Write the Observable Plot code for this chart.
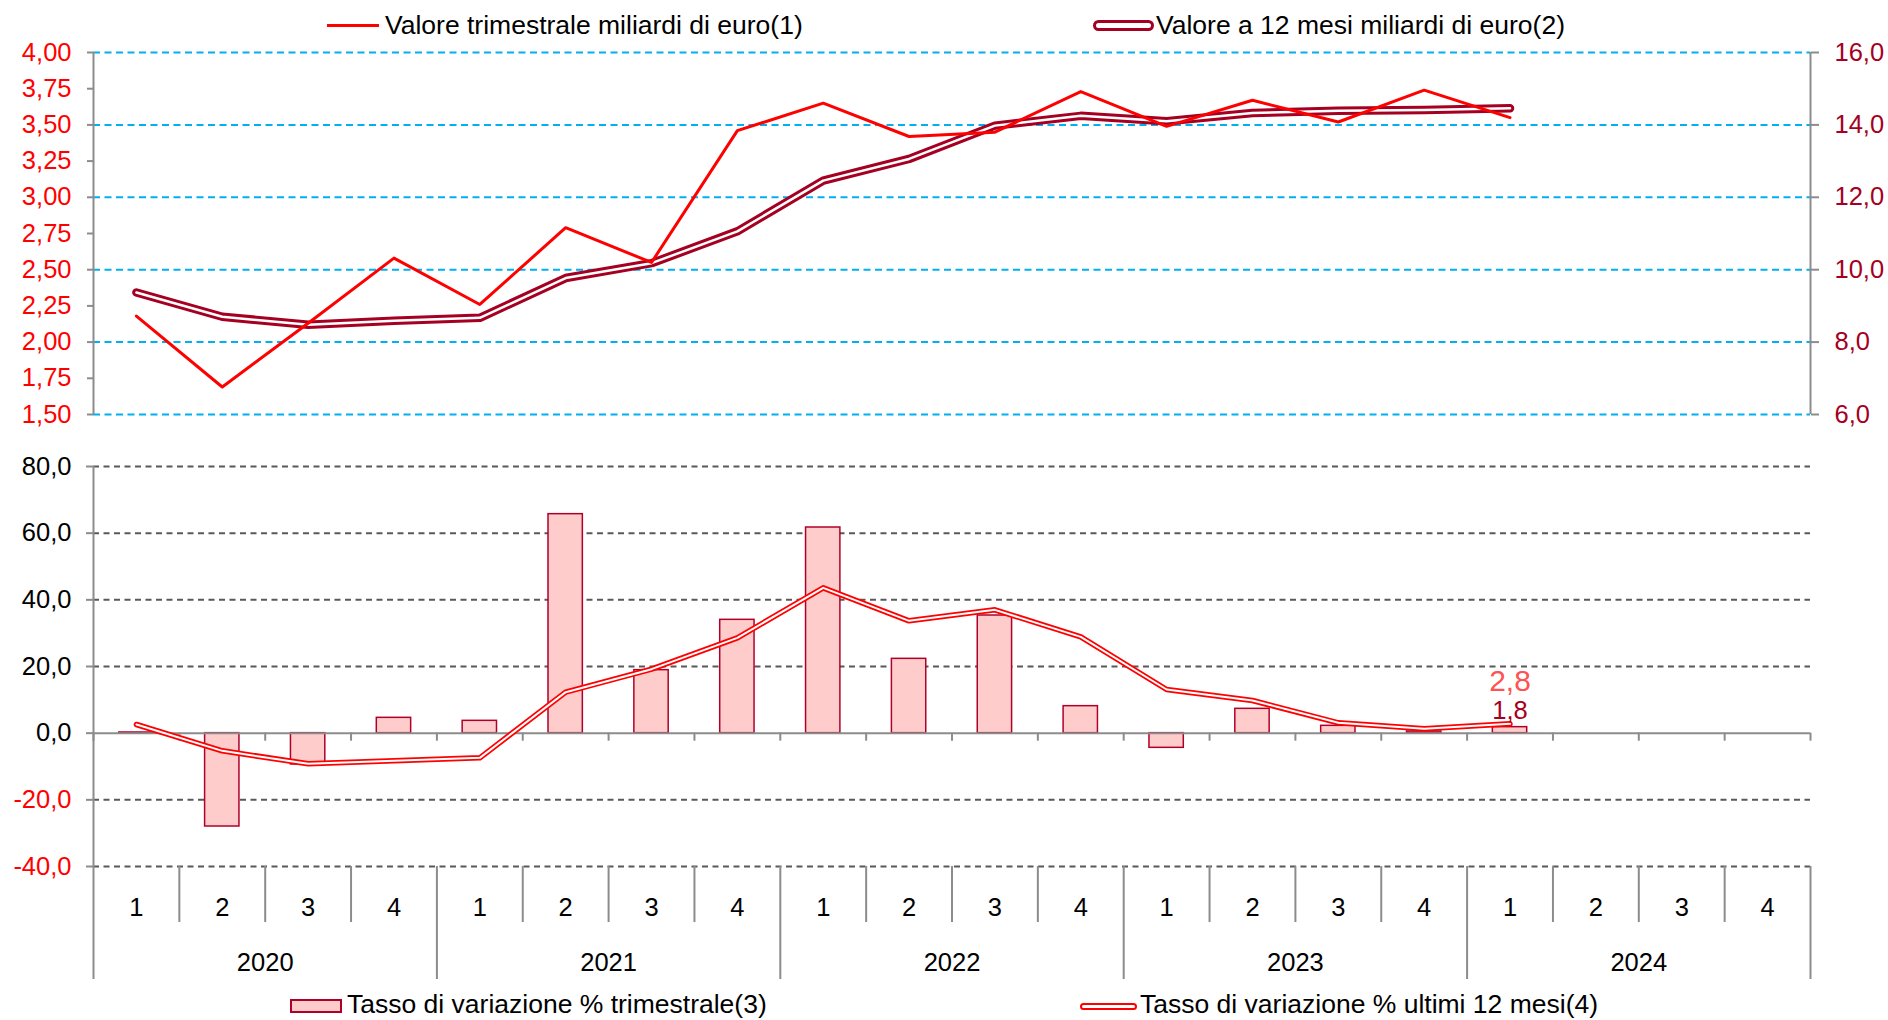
<!DOCTYPE html>
<html>
<head>
<meta charset="utf-8">
<script src="https://cdn.jsdelivr.net/npm/d3@7"></script>
<script src="https://cdn.jsdelivr.net/npm/@observablehq/plot@0.6"></script>
<style>
  html, body { margin: 0; padding: 0; background: #fff; }
  #root { position: relative; width: 1888px; height: 1020px; overflow: hidden;
          font-family: "Liberation Sans", Arial, sans-serif; background: #fff; }
  .legtxt { position: absolute; font-size: 26.5px; line-height: 26.5px; color: #000; white-space: nowrap; }
  .sym { position: absolute; box-sizing: border-box; }
</style>
</head>
<body>
<div id="root"></div>
<script>
// ---------------- DATA ----------------
const years = ["2020", "2021", "2022", "2023", "2024"];
const quarters = ["1", "2", "3", "4"];

// Valore trimestrale miliardi di euro (left axis)
const valoreTrimestrale = [2.18, 1.69, 2.13, 2.58, 2.26, 2.79, 2.55, 3.46, 3.65, 3.42, 3.45, 3.73, 3.49, 3.67, 3.52, 3.74, 3.55];
// Valore a 12 mesi miliardi di euro (right axis)
const valore12Mesi = [9.37, 8.70, 8.48, 8.59, 8.67, 9.77, 10.18, 11.06, 12.46, 13.06, 13.98, 14.25, 14.10, 14.33, 14.39, 14.41, 14.46];
// Tasso di variazione % trimestrale (bars)
const tassoTrimestrale = [0.2, -28.0, -9.4, 4.6, 3.7, 65.7, 18.9, 34.0, 61.7, 22.3, 35.3, 8.1, -4.4, 7.3, 2.2, 0.5, 1.8];
// Tasso di variazione % ultimi 12 mesi (line)
const tasso12Mesi = [2.6, -5.3, -9.2, -8.3, -7.4, 12.3, 19.2, 28.6, 43.6, 33.7, 37.0, 28.9, 13.1, 9.8, 3.1, 1.3, 2.8];

const ticksTopLeft = [1.5, 1.75, 2, 2.25, 2.5, 2.75, 3, 3.25, 3.5, 3.75, 4];
const ticksTopRight = [6, 8, 10, 12, 14, 16];
const ticksBottom = [-40, -20, 0, 20, 40, 60, 80];

const legendTop = ["Valore trimestrale miliardi di euro(1)", "Valore a 12 mesi miliardi di euro(2)"];
const legendBottom = ["Tasso di variazione % trimestrale(3)", "Tasso di variazione % ultimi 12 mesi(4)"];

// ---------------- HELPERS ----------------
const periods = years.flatMap((y, yi) => quarters.map((q, qi) => ({year: y, quarter: q, i: yi * 4 + qi})));
const rows = (arr) => arr.map((v, i) => ({i, v}));
const fmt = (d, n) => d.toFixed(n).replace(".", ",");
const leftDom = [1.5, 4], rightDom = [6, 16];
const k = (leftDom[1] - leftDom[0]) / (rightDom[1] - rightDom[0]);
const toLeft = (v) => leftDom[0] + (v - rightDom[0]) * k;
const fromLeft = (v) => rightDom[0] + (v - leftDom[0]) / k;

const N = periods.length;
const boundaries = d3.range(N + 1).map(b => b - 0.5);
const yearBoundaries = boundaries.filter((b, j) => j % 4 === 0);
const quarterBoundaries = boundaries.filter((b, j) => j % 4 !== 0);
const yearCenters = years.map((y, yi) => yi * 4 + 1.5);

const FONT = "Liberation Sans, Arial, sans-serif";
const GRAY = "#8C8C8C";
const RED = "#FF0000";
const CRIMSON = "#A50021";
const xScale = {domain: [-0.5, N - 0.5], axis: null};
const style = {fontFamily: FONT, fontSize: "25.5px", background: "transparent", overflow: "visible", color: "#000"};

// ---------------- TOP PANEL ----------------
const topPlot = Plot.plot({
  width: 1888, height: 400,
  marginTop: 12, marginBottom: 26, marginLeft: 93, marginRight: 78,
  x: xScale,
  y: {domain: leftDom, axis: null},
  style,
  marks: [
    Plot.ruleY(ticksTopRight.map(toLeft), {stroke: "#00B0F0", strokeWidth: 2, strokeDasharray: "7,4.5"}),
    Plot.ruleX([-0.5, N - 0.5], {stroke: GRAY, strokeWidth: 2}),
    Plot.axisY({anchor: "left", ticks: ticksTopLeft, tickSize: 6, tickPadding: 16, strokeWidth: 2,
      tickFormat: d => fmt(d, 2), stroke: GRAY, fill: RED, label: null}),
    Plot.axisY({anchor: "right", ticks: ticksTopRight.map(toLeft), tickSize: 8, tickPadding: 16, strokeWidth: 2,
      tickFormat: d => fmt(fromLeft(d), 1), stroke: GRAY, fill: CRIMSON, label: null}),
    Plot.line(rows(valore12Mesi), {x: "i", y: d => toLeft(d.v), stroke: CRIMSON, strokeWidth: 8.5,
      strokeLinecap: "round", strokeLinejoin: "round"}),
    Plot.line(rows(valore12Mesi), {x: "i", y: d => toLeft(d.v), stroke: "#fff", strokeWidth: 2.5,
      strokeLinecap: "round", strokeLinejoin: "round"}),
    Plot.line(rows(valoreTrimestrale), {x: "i", y: "v", stroke: RED, strokeWidth: 3})
  ]
});

// ---------------- BOTTOM PANEL ----------------
const bottomPlot = Plot.plot({
  width: 1888, height: 550,
  marginTop: 26, marginBottom: 124, marginLeft: 93, marginRight: 78,
  x: xScale,
  y: {domain: [-40, 80], axis: null},
  style,
  marks: [
    Plot.ruleY(ticksBottom.filter(d => d !== 0), {stroke: "#595959", strokeWidth: 2, strokeDasharray: "6,4.5"}),
    Plot.ruleX([-0.5], {stroke: GRAY, strokeWidth: 2}),
    Plot.axisY({anchor: "left", ticks: ticksBottom.filter(d => d >= 0), tickSize: 7, tickPadding: 15, strokeWidth: 2,
      tickFormat: d => fmt(d, 1), stroke: GRAY, fill: "#000", label: null}),
    Plot.axisY({anchor: "left", ticks: ticksBottom.filter(d => d < 0), tickSize: 7, tickPadding: 15, strokeWidth: 2,
      tickFormat: d => fmt(d, 1), stroke: GRAY, fill: RED, label: null}),
    Plot.axisX({anchor: "bottom", ticks: quarterBoundaries, tickSize: 56, strokeWidth: 2, stroke: GRAY,
      tickFormat: () => "", label: null}),
    Plot.axisX({anchor: "bottom", ticks: yearBoundaries, tickSize: 113, strokeWidth: 2, stroke: GRAY,
      tickFormat: () => "", label: null}),
    Plot.axisX({anchor: "bottom", ticks: periods.map(d => d.i), tickSize: 0, tickPadding: 31.5, fill: "#000",
      tickFormat: i => periods[Math.round(i)].quarter, label: null}),
    Plot.axisX({anchor: "bottom", ticks: yearCenters, tickSize: 0, tickPadding: 86.5, fill: "#000",
      tickFormat: c => years[Math.round((c - 1.5) / 4)], label: null}),
    Plot.rect(rows(tassoTrimestrale), {x1: d => d.i - 0.2, x2: d => d.i + 0.2, y1: 0, y2: "v",
      fill: "#FFCCCC", stroke: "#B0002A", strokeWidth: 1.5}),
    Plot.ruleY([0], {stroke: GRAY, strokeWidth: 2}),
    Plot.ruleX(boundaries, {y1: 0, y2: 0, insetBottom: -8, stroke: GRAY, strokeWidth: 2}),
    Plot.line(rows(tasso12Mesi), {x: "i", y: "v", stroke: RED, strokeWidth: 5.5,
      strokeLinecap: "round", strokeLinejoin: "round"}),
    Plot.line(rows(tasso12Mesi), {x: "i", y: "v", stroke: "#fff", strokeWidth: 2,
      strokeLinecap: "round", strokeLinejoin: "round"}),
    Plot.text(rows(tassoTrimestrale).slice(-1), {x: "i", y: "v", text: d => fmt(d.v, 1),
      fill: CRIMSON, fontSize: 25.5, dy: -16}),
    Plot.text(rows(tasso12Mesi).slice(-1), {x: "i", y: "v", text: d => fmt(d.v, 1),
      fill: "#FF3B3B", fillOpacity: 0.9, fontSize: 30, dy: -42})
  ]
});

// ---------------- LAYOUT ----------------
const root = document.getElementById("root");
function place(node, top) {
  node.style.position = "absolute";
  node.style.left = "0px";
  node.style.top = top + "px";
  root.appendChild(node);
}
place(topPlot, 40);
place(bottomPlot, 440);

function sym(css) {
  const d = document.createElement("div");
  d.className = "sym";
  Object.assign(d.style, css);
  root.appendChild(d);
}
function txt(text, left, top) {
  const d = document.createElement("div");
  d.className = "legtxt";
  d.textContent = text;
  d.style.left = left + "px";
  d.style.top = top + "px";
  root.appendChild(d);
}
// top legend
sym({left: "327px", top: "23.5px", width: "52px", height: "3px", background: RED});
txt(legendTop[0], 385, 12);
sym({left: "1093px", top: "20px", width: "61px", height: "11px", border: "3.5px solid " + CRIMSON,
     borderRadius: "6px", background: "#fff"});
txt(legendTop[1], 1156, 12);
// bottom legend
sym({left: "290px", top: "999px", width: "52px", height: "14px", border: "2px solid #B0002A", background: "#FFCCCC"});
txt(legendBottom[0], 347, 991);
sym({left: "1080px", top: "1002.5px", width: "57px", height: "7.5px", border: "2.5px solid " + RED,
     borderRadius: "4px", background: "#fff"});
txt(legendBottom[1], 1140, 991);
</script>
</body>
</html>
